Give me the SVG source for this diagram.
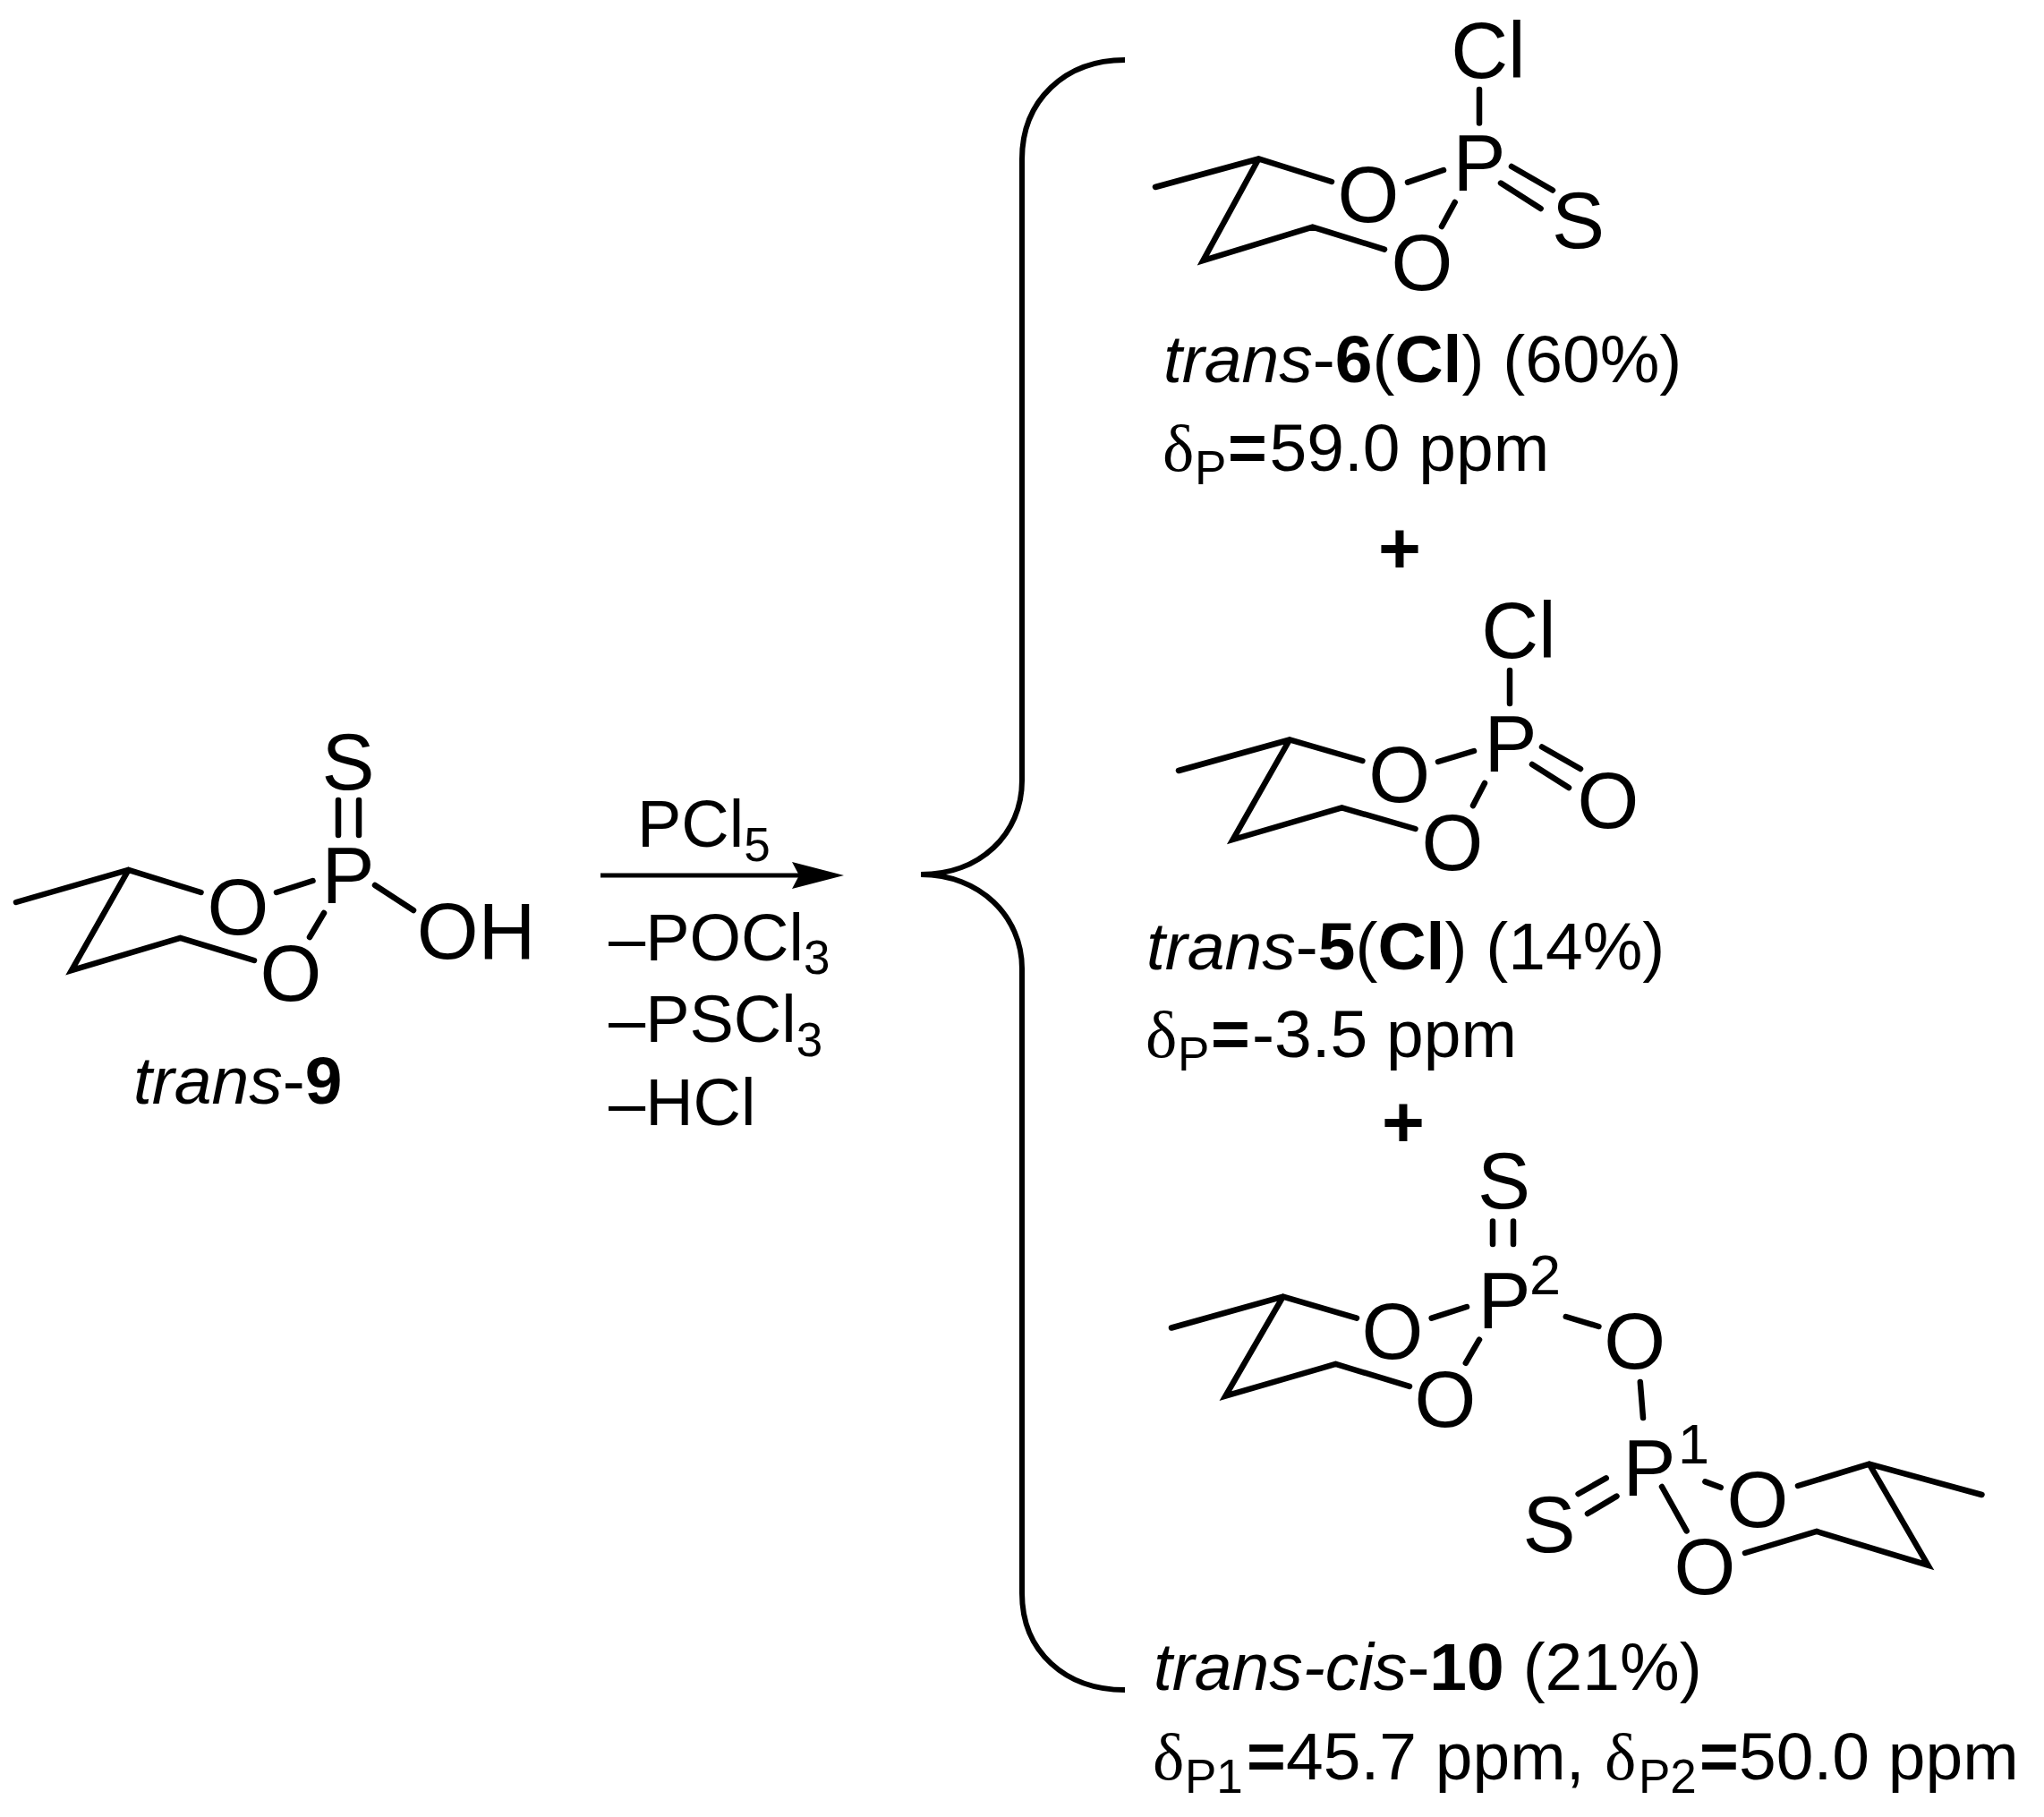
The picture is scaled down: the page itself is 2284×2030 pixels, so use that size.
<svg xmlns="http://www.w3.org/2000/svg" width="2284" height="2030" viewBox="0 0 2284 2030">
<style>
text{font-family:"Liberation Sans",Arial,sans-serif;fill:#000}
.at{font-size:88.5px;text-anchor:middle}
.sup{font-size:63px}
.lb{font-size:75px}
.rg{font-size:74px}
.pl{font-size:82px;font-weight:bold;text-anchor:middle}
.i{font-style:italic}
.b{font-weight:bold}
.d{font-family:"Liberation Serif","Times New Roman",serif}
.s{font-size:53px}
.r{font-size:53px}
.bd{fill:none;stroke:#000;stroke-width:6.5;stroke-linecap:round;stroke-linejoin:miter}
.br{fill:none;stroke:#000;stroke-width:6}
.ar{stroke:#000;stroke-width:5;fill:none}
</style>
<defs>
<marker id="head" markerUnits="userSpaceOnUse" markerWidth="60" markerHeight="34" refX="8" refY="17" orient="auto" viewBox="0 0 60 34"><path d="M0 2 L58 17 L0 32 L8 17Z" fill="#000"/></marker>
</defs>
<rect width="2284" height="2030" fill="#fff"/>
<g id="connectors">
<path id="bracket" class="br" d="M1257 67 C1190 67 1142 112 1142 178 L1142 872 C1142 932 1095 977 1029 977 C1095 977 1142 1024 1142 1082 L1142 1780 C1142 1845 1190 1888 1257 1888"/>
<path id="reaction-arrow" class="ar" d="M671 978 L893 978" marker-end="url(#head)"/>
</g>
<g id="trans-9">
<path class="bd" d="M18 1008 L143.5 972 L224.5 997 M143.5 972 L80 1084 L201.5 1048 L284 1073 M309 997 L349.5 984 M362 1020 L346 1047 M419 989 L462 1017 M378 894 V933 M401 894 V933"/>
<text class="at" x="389" y="882">S</text>
<text class="at" x="389" y="1009">P</text>
<text class="at" x="266" y="1044">O</text>
<text class="at" x="325" y="1118">O</text>
<text class="at" x="532" y="1071">OH</text>
<text class="lb" x="149" y="1233"><tspan class="i">trans</tspan>-<tspan class="b">9</tspan></text>
</g>
<g id="reagents">
<text class="rg" x="712" y="946">PCl<tspan class="r" dy="16">5</tspan></text>
<text class="rg" x="680" y="1073">–POCl<tspan class="r" dy="15">3</tspan></text>
<text class="rg" x="680" y="1164">–PSCl<tspan class="r" dy="16">3</tspan></text>
<text class="rg" x="680" y="1257">–HCl</text>
</g>
<g id="trans-6-Cl">
<path class="bd" d="M1291 209 L1406.4 177.5 L1488 203 M1406.4 177.5 L1344.4 291 L1466.7 253.6 L1547 278.6 M1573 203.6 L1613 190 M1625.7 226 L1611 253 M1689 186 L1735 212.5 M1677 204.6 L1721.6 233 M1653 100 V137.5"/>
<text class="at" x="1663" y="87">Cl</text>
<text class="at" x="1653" y="213">P</text>
<text class="at" x="1529" y="248">O</text>
<text class="at" x="1589" y="324">O</text>
<text class="at" x="1763.5" y="277">S</text>
<text class="lb" x="1300" y="427"><tspan class="i">trans</tspan>-<tspan class="b">6</tspan>(<tspan class="b">Cl</tspan>) (60%)</text>
<text class="lb" x="1299" y="526"><tspan class="d">δ</tspan><tspan class="s" x="1335" dy="15">P</tspan><tspan class="b" x="1372" dy="-15">=</tspan><tspan x="1418.5">59.0 ppm</tspan></text>
</g>
<text id="plus-1" class="pl" x="1564" y="640">+</text>
<g id="trans-5-Cl">
<path class="bd" d="M1317 861 L1441 826.5 L1522.4 850 M1441 826.5 L1377.7 938 L1499.4 902.4 L1581.5 926 M1607 851 L1647 839 M1659 875 L1646 900 M1723 834.5 L1766 859 M1712 854 L1753 880 M1687 749 V786"/>
<text class="at" x="1697" y="735">Cl</text>
<text class="at" x="1688" y="862">P</text>
<text class="at" x="1563.7" y="896">O</text>
<text class="at" x="1623" y="972">O</text>
<text class="at" x="1797" y="925">O</text>
<text class="lb" x="1281" y="1083"><tspan class="i">trans</tspan>-<tspan class="b">5</tspan>(<tspan class="b">Cl</tspan>) (14%)</text>
<text class="lb" x="1280" y="1181"><tspan class="d">δ</tspan><tspan class="s" x="1316" dy="15">P</tspan><tspan class="b" x="1353" dy="-15">=</tspan><tspan x="1399">-3.5 ppm</tspan></text>
</g>
<text id="plus-2" class="pl" x="1568" y="1281">+</text>
<g id="trans-cis-10">
<path class="bd" d="M1309 1483.5 L1433.7 1448.6 L1516 1472.7 M1433.7 1448.6 L1369.4 1559.6 L1492.5 1524 L1575 1548.8 M1599.7 1472.7 L1639 1460 M1653 1496.7 L1637.8 1522.8 M1668 1364.6 V1390 M1691 1364.6 V1390 M1749.8 1471 L1786.4 1482 M1832.8 1544 L1836 1584 M1794.7 1651.4 L1763.6 1669 M1806.5 1671.6 L1774 1691 M1905.4 1655.4 L1922.7 1661.8 M1857 1661 L1884.6 1710.4 M2009 1660 L2088.7 1635.7 L2214.5 1670 M2088.7 1635.7 L2154.4 1748.7 L2030 1711 L1950 1735"/>
<text class="at" x="1680.6" y="1350">S</text>
<text class="at" x="1681" y="1484">P</text>
<text class="sup" x="1709" y="1446">2</text>
<text class="at" x="1556" y="1518">O</text>
<text class="at" x="1615" y="1594">O</text>
<text class="at" x="1826.6" y="1529">O</text>
<text class="at" x="1843" y="1671">P</text>
<text class="sup" x="1875" y="1635">1</text>
<text class="at" x="1731" y="1734">S</text>
<text class="at" x="1964" y="1706">O</text>
<text class="at" x="1905" y="1781">O</text>
<text class="lb" x="1289" y="1888"><tspan class="i">trans-cis</tspan>-<tspan class="b">10</tspan> (21%)</text>
<text class="lb" x="1288" y="1988"><tspan class="d">δ</tspan><tspan class="s" x="1324" dy="15">P1</tspan><tspan class="b" x="1393" dy="-15">=</tspan><tspan x="1437">45.7 ppm,</tspan><tspan class="d" x="1793">δ</tspan><tspan class="s" x="1831" dy="15">P2</tspan><tspan class="b" x="1899" dy="-15">=</tspan><tspan x="1943">50.0 ppm</tspan></text>
</g>
</svg>
